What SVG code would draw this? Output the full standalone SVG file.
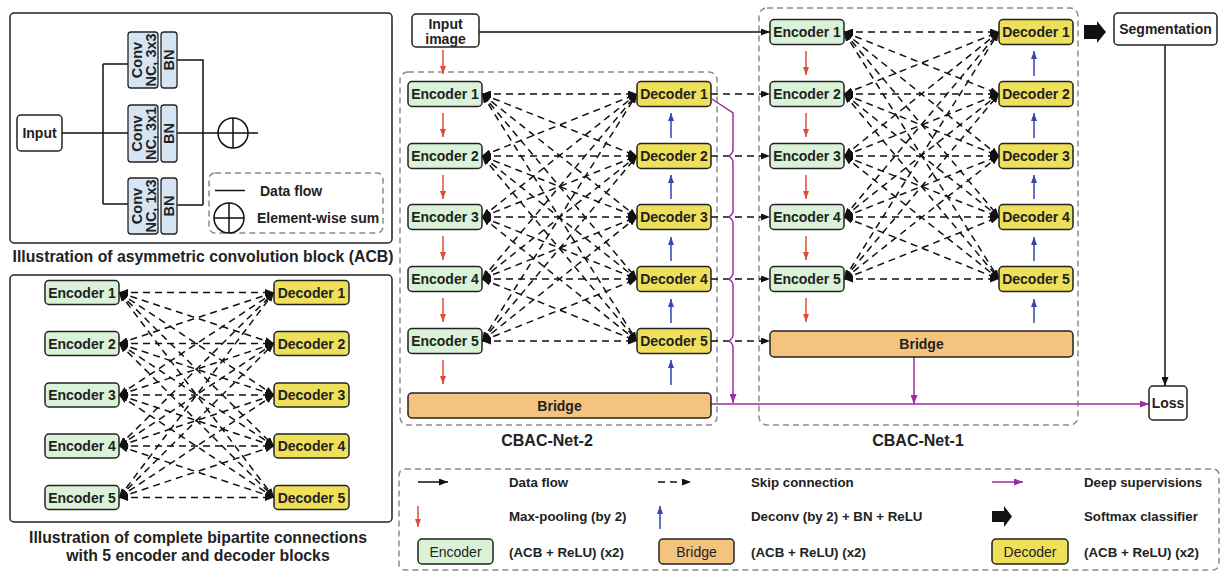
<svg xmlns="http://www.w3.org/2000/svg" width="1228" height="582" viewBox="0 0 1228 582">
<style>
text{font-family:"Liberation Sans",Arial,sans-serif;font-weight:bold;fill:#222}
.lbl{font-size:14px;text-anchor:middle;dominant-baseline:central}
.leg{font-size:13.3px;dominant-baseline:central}
.leg2{font-size:14px;dominant-baseline:central}
.title{font-size:15.8px;text-anchor:middle}
.net{font-size:16px;text-anchor:middle}
.rot{font-size:14.5px;text-anchor:middle}
.frame{fill:#fff;stroke:#222;stroke-width:1.5}
.gbox{fill:none;stroke:#8c8c8c;stroke-width:1.5;stroke-dasharray:6 4}
.enc{fill:#daf3d8;stroke:#222;stroke-width:1.5}
.dec{fill:#eee05a;stroke:#222;stroke-width:1.5}
.brg{fill:#f4c47f;stroke:#222;stroke-width:1.5}
.conv{fill:#d6e5f4;stroke:#222;stroke-width:1.3}
.wbox{fill:#fff;stroke:#222;stroke-width:1.5}
.sol{stroke:#111;stroke-width:1.5;fill:none}
.sk{stroke:#111;stroke-width:1.5;stroke-dasharray:7 5;fill:none;marker-start:url(#ak);marker-end:url(#ak)}
.sk1{stroke:#111;stroke-width:1.5;stroke-dasharray:7 5;fill:none;marker-end:url(#ak)}
.red{stroke:#e04b37;stroke-width:1.5;fill:none;marker-end:url(#ar)}
.blue{stroke:#3445b0;stroke-width:1.5;fill:none;marker-end:url(#ab)}
.pura{stroke:#9a2fa0;stroke-width:1.5;fill:none;marker-end:url(#ap)}
</style>
<defs>
<marker id="ak" viewBox="0 0 10 10" refX="10" refY="5" markerWidth="9" markerHeight="7" markerUnits="userSpaceOnUse" orient="auto-start-reverse" preserveAspectRatio="none"><path d="M0,0 L10,5 L0,10 z" fill="#111"/></marker>
<marker id="ar" viewBox="0 0 10 10" refX="10" refY="5" markerWidth="8" markerHeight="6" markerUnits="userSpaceOnUse" orient="auto" preserveAspectRatio="none"><path d="M0,0 L10,5 L0,10 z" fill="#e04b37"/></marker>
<marker id="ab" viewBox="0 0 10 10" refX="10" refY="5" markerWidth="8" markerHeight="6" markerUnits="userSpaceOnUse" orient="auto" preserveAspectRatio="none"><path d="M0,0 L10,5 L0,10 z" fill="#3445b0"/></marker>
<marker id="ap" viewBox="0 0 10 10" refX="10" refY="5" markerWidth="9" markerHeight="7" markerUnits="userSpaceOnUse" orient="auto" preserveAspectRatio="none"><path d="M0,0 L10,5 L0,10 z" fill="#9a2fa0"/></marker>
</defs>
<rect width="1228" height="582" fill="#fff"/>

<g id="acb-panel">
<rect class="frame" x="10" y="13" width="382" height="230" rx="4"/>
<g id="acb-input"><rect class="wbox" x="17" y="115" width="45" height="36" rx="4"/><text class="lbl" x="39.5" y="133">Input</text></g>
<path class="sol" d="M62,133 H128 M103,64 V204 M103,64 H128 M103,204 H128"/>
<path class="sol" d="M177,60 H203 V205 M177,205 H203 M177,133 H258"/>
<g id="acb-top"><rect class="conv" x="128" y="32" width="30" height="56" rx="3"/><rect class="conv" x="161" y="32" width="16" height="56" rx="3"/>
<text class="rot" transform="translate(141.5,60) rotate(-90)">Conv</text><text class="rot" transform="translate(155.5,60) rotate(-90)">NC, 3x3</text><text class="rot" transform="translate(174,60) rotate(-90)">BN</text></g>
<g id="acb-mid"><rect class="conv" x="128" y="105" width="30" height="57" rx="3"/><rect class="conv" x="161" y="105" width="16" height="57" rx="3"/>
<text class="rot" transform="translate(141.5,133.5) rotate(-90)">Conv</text><text class="rot" transform="translate(155.5,133.5) rotate(-90)">NC, 3x1</text><text class="rot" transform="translate(174,133.5) rotate(-90)">BN</text></g>
<g id="acb-bot"><rect class="conv" x="128" y="178" width="30" height="56" rx="3"/><rect class="conv" x="161" y="178" width="16" height="56" rx="3"/>
<text class="rot" transform="translate(141.5,206) rotate(-90)">Conv</text><text class="rot" transform="translate(155.5,206) rotate(-90)">NC, 1x3</text><text class="rot" transform="translate(174,206) rotate(-90)">BN</text></g>
<g id="acb-sum"><circle cx="233" cy="133" r="15" fill="#fff" stroke="#111" stroke-width="1.5"/><path class="sol" d="M218,133 H248 M233,118 V148"/></g>
<g id="acb-legend"><rect class="gbox" x="209" y="173" width="174" height="60" rx="6"/>
<path class="sol" d="M215,190.5 H245"/><text class="leg2" x="260" y="190.5">Data flow</text>
<circle cx="229" cy="218" r="15" fill="#fff" stroke="#111" stroke-width="1.5"/><path class="sol" d="M214,218 H244 M229,203 V233"/><text class="leg2" x="257" y="218">Element-wise sum</text></g>
<text class="title" x="203" y="262">Illustration of asymmetric convolution block (ACB)</text>
</g>

<g id="bip-panel">
<rect class="frame" x="10" y="275" width="382" height="247" rx="4"/>
<g id="bip-connectors">
<line class="sk" x1="119" y1="292.5" x2="274" y2="292.5"/><line class="sk" x1="119" y1="292.5" x2="274" y2="343.5"/><line class="sk" x1="119" y1="292.5" x2="274" y2="395"/><line class="sk" x1="119" y1="292.5" x2="274" y2="446"/><line class="sk" x1="119" y1="292.5" x2="274" y2="497.5"/>
<line class="sk" x1="119" y1="343.5" x2="274" y2="292.5"/><line class="sk" x1="119" y1="343.5" x2="274" y2="343.5"/><line class="sk" x1="119" y1="343.5" x2="274" y2="395"/><line class="sk" x1="119" y1="343.5" x2="274" y2="446"/><line class="sk" x1="119" y1="343.5" x2="274" y2="497.5"/>
<line class="sk" x1="119" y1="395" x2="274" y2="292.5"/><line class="sk" x1="119" y1="395" x2="274" y2="343.5"/><line class="sk" x1="119" y1="395" x2="274" y2="395"/><line class="sk" x1="119" y1="395" x2="274" y2="446"/><line class="sk" x1="119" y1="395" x2="274" y2="497.5"/>
<line class="sk" x1="119" y1="446" x2="274" y2="292.5"/><line class="sk" x1="119" y1="446" x2="274" y2="343.5"/><line class="sk" x1="119" y1="446" x2="274" y2="395"/><line class="sk" x1="119" y1="446" x2="274" y2="446"/><line class="sk" x1="119" y1="446" x2="274" y2="497.5"/>
<line class="sk" x1="119" y1="497.5" x2="274" y2="292.5"/><line class="sk" x1="119" y1="497.5" x2="274" y2="343.5"/><line class="sk" x1="119" y1="497.5" x2="274" y2="395"/><line class="sk" x1="119" y1="497.5" x2="274" y2="446"/><line class="sk" x1="119" y1="497.5" x2="274" y2="497.5"/>
</g>
<g id="bip-enc1"><rect class="enc" x="45" y="280.5" width="74" height="24" rx="4"/><text class="lbl" x="82" y="292.5">Encoder 1</text></g>
<g id="bip-enc2"><rect class="enc" x="45" y="331.5" width="74" height="24" rx="4"/><text class="lbl" x="82" y="343.5">Encoder 2</text></g>
<g id="bip-enc3"><rect class="enc" x="45" y="383" width="74" height="24" rx="4"/><text class="lbl" x="82" y="395">Encoder 3</text></g>
<g id="bip-enc4"><rect class="enc" x="45" y="434" width="74" height="24" rx="4"/><text class="lbl" x="82" y="446">Encoder 4</text></g>
<g id="bip-enc5"><rect class="enc" x="45" y="485.5" width="74" height="24" rx="4"/><text class="lbl" x="82" y="497.5">Encoder 5</text></g>
<g id="bip-dec1"><rect class="dec" x="274" y="280.5" width="75" height="24" rx="4"/><text class="lbl" x="311.5" y="292.5">Decoder 1</text></g>
<g id="bip-dec2"><rect class="dec" x="274" y="331.5" width="75" height="24" rx="4"/><text class="lbl" x="311.5" y="343.5">Decoder 2</text></g>
<g id="bip-dec3"><rect class="dec" x="274" y="383" width="75" height="24" rx="4"/><text class="lbl" x="311.5" y="395">Decoder 3</text></g>
<g id="bip-dec4"><rect class="dec" x="274" y="434" width="75" height="24" rx="4"/><text class="lbl" x="311.5" y="446">Decoder 4</text></g>
<g id="bip-dec5"><rect class="dec" x="274" y="485.5" width="75" height="24" rx="4"/><text class="lbl" x="311.5" y="497.5">Decoder 5</text></g>
<text class="title" x="198" y="543">Illustration of complete bipartite connections</text>
<text class="title" x="198" y="561">with 5 encoder and decoder blocks</text>
</g>

<rect class="gbox" x="400" y="72" width="317" height="353" rx="8"/>
<rect class="gbox" x="759" y="8" width="319" height="417" rx="8"/>
<text class="net" x="547" y="446">CBAC-Net-2</text>
<text class="net" x="918" y="446">CBAC-Net-1</text>

<g id="connectors">
<line class="sk" x1="482" y1="94" x2="637" y2="94"/><line class="sk" x1="482" y1="94" x2="637" y2="156"/><line class="sk" x1="482" y1="94" x2="637" y2="217"/><line class="sk" x1="482" y1="94" x2="637" y2="279"/><line class="sk" x1="482" y1="94" x2="637" y2="341"/>
<line class="sk" x1="482" y1="156" x2="637" y2="94"/><line class="sk" x1="482" y1="156" x2="637" y2="156"/><line class="sk" x1="482" y1="156" x2="637" y2="217"/><line class="sk" x1="482" y1="156" x2="637" y2="279"/><line class="sk" x1="482" y1="156" x2="637" y2="341"/>
<line class="sk" x1="482" y1="217" x2="637" y2="94"/><line class="sk" x1="482" y1="217" x2="637" y2="156"/><line class="sk" x1="482" y1="217" x2="637" y2="217"/><line class="sk" x1="482" y1="217" x2="637" y2="279"/><line class="sk" x1="482" y1="217" x2="637" y2="341"/>
<line class="sk" x1="482" y1="279" x2="637" y2="94"/><line class="sk" x1="482" y1="279" x2="637" y2="156"/><line class="sk" x1="482" y1="279" x2="637" y2="217"/><line class="sk" x1="482" y1="279" x2="637" y2="279"/><line class="sk" x1="482" y1="279" x2="637" y2="341"/>
<line class="sk" x1="482" y1="341" x2="637" y2="94"/><line class="sk" x1="482" y1="341" x2="637" y2="156"/><line class="sk" x1="482" y1="341" x2="637" y2="217"/><line class="sk" x1="482" y1="341" x2="637" y2="279"/><line class="sk" x1="482" y1="341" x2="637" y2="341"/>
<line class="sk" x1="844" y1="32" x2="999" y2="32"/><line class="sk" x1="844" y1="32" x2="999" y2="94"/><line class="sk" x1="844" y1="32" x2="999" y2="156"/><line class="sk" x1="844" y1="32" x2="999" y2="217"/><line class="sk" x1="844" y1="32" x2="999" y2="279"/>
<line class="sk" x1="844" y1="94" x2="999" y2="32"/><line class="sk" x1="844" y1="94" x2="999" y2="94"/><line class="sk" x1="844" y1="94" x2="999" y2="156"/><line class="sk" x1="844" y1="94" x2="999" y2="217"/><line class="sk" x1="844" y1="94" x2="999" y2="279"/>
<line class="sk" x1="844" y1="156" x2="999" y2="32"/><line class="sk" x1="844" y1="156" x2="999" y2="94"/><line class="sk" x1="844" y1="156" x2="999" y2="156"/><line class="sk" x1="844" y1="156" x2="999" y2="217"/><line class="sk" x1="844" y1="156" x2="999" y2="279"/>
<line class="sk" x1="844" y1="217" x2="999" y2="32"/><line class="sk" x1="844" y1="217" x2="999" y2="94"/><line class="sk" x1="844" y1="217" x2="999" y2="156"/><line class="sk" x1="844" y1="217" x2="999" y2="217"/><line class="sk" x1="844" y1="217" x2="999" y2="279"/>
<line class="sk" x1="844" y1="279" x2="999" y2="32"/><line class="sk" x1="844" y1="279" x2="999" y2="94"/><line class="sk" x1="844" y1="279" x2="999" y2="156"/><line class="sk" x1="844" y1="279" x2="999" y2="217"/><line class="sk" x1="844" y1="279" x2="999" y2="279"/>
<line class="sk1" x1="711" y1="94" x2="770" y2="94"/>
<line class="sk1" x1="711" y1="156" x2="770" y2="156"/>
<line class="sk1" x1="711" y1="217" x2="770" y2="217"/>
<line class="sk1" x1="711" y1="279" x2="770" y2="279"/>
<line class="sk1" x1="711" y1="341" x2="770" y2="341"/>
<line class="sol" x1="479" y1="32" x2="770" y2="32" marker-end="url(#ak)"/>
<path class="sol" d="M1165,45 V386" marker-end="url(#ak)"/>
<line class="red" x1="443" y1="50" x2="443" y2="74"/>
<line class="red" x1="443" y1="113" x2="443" y2="137"/>
<line class="red" x1="443" y1="175" x2="443" y2="199"/>
<line class="red" x1="443" y1="236" x2="443" y2="260"/>
<line class="red" x1="443" y1="298" x2="443" y2="322"/>
<line class="red" x1="443" y1="360" x2="443" y2="384"/>
<line class="red" x1="806" y1="51" x2="806" y2="75"/>
<line class="red" x1="806" y1="113" x2="806" y2="137"/>
<line class="red" x1="806" y1="175" x2="806" y2="199"/>
<line class="red" x1="806" y1="236" x2="806" y2="260"/>
<line class="red" x1="806" y1="298" x2="806" y2="322"/>
<line class="blue" x1="671" y1="138" x2="671" y2="113"/>
<line class="blue" x1="671" y1="199" x2="671" y2="175"/>
<line class="blue" x1="671" y1="261" x2="671" y2="237"/>
<line class="blue" x1="671" y1="323" x2="671" y2="299"/>
<line class="blue" x1="671" y1="385" x2="671" y2="360"/>
<line class="blue" x1="1034" y1="76" x2="1034" y2="51"/>
<line class="blue" x1="1034" y1="138" x2="1034" y2="113"/>
<line class="blue" x1="1034" y1="199" x2="1034" y2="175"/>
<line class="blue" x1="1034" y1="261" x2="1034" y2="237"/>
<line class="blue" x1="1034" y1="323" x2="1034" y2="299"/>
<path class="pura" d="M712,99 L733,113 V150 Q733,153 729,156 Q733,159 733,162 V211 Q733,214 729,217 Q733,220 733,223 V273 Q733,276 729,279 Q733,282 733,285 V335 Q733,338 729,341 Q733,344 733,347 V403"/>
<line class="pura" x1="711" y1="404" x2="1149" y2="404"/>
<line class="pura" x1="914" y1="357" x2="914" y2="404"/>
</g>

<g id="input-image"><rect class="wbox" x="412" y="14" width="67" height="33" rx="4"/><text class="lbl" x="445.5" y="23.5">Input</text><text class="lbl" x="445.5" y="39">image</text></g>

<g id="n2-enc1"><rect class="enc" x="408" y="81.5" width="74" height="25" rx="4"/><text class="lbl" x="445" y="94">Encoder 1</text></g>
<g id="n2-enc2"><rect class="enc" x="408" y="143.5" width="74" height="25" rx="4"/><text class="lbl" x="445" y="156">Encoder 2</text></g>
<g id="n2-enc3"><rect class="enc" x="408" y="204.5" width="74" height="25" rx="4"/><text class="lbl" x="445" y="217">Encoder 3</text></g>
<g id="n2-enc4"><rect class="enc" x="408" y="266.5" width="74" height="25" rx="4"/><text class="lbl" x="445" y="279">Encoder 4</text></g>
<g id="n2-enc5"><rect class="enc" x="408" y="328.5" width="74" height="25" rx="4"/><text class="lbl" x="445" y="341">Encoder 5</text></g>
<g id="n2-dec1"><rect class="dec" x="637" y="81.5" width="74" height="25" rx="4"/><text class="lbl" x="674" y="94">Decoder 1</text></g>
<g id="n2-dec2"><rect class="dec" x="637" y="143.5" width="74" height="25" rx="4"/><text class="lbl" x="674" y="156">Decoder 2</text></g>
<g id="n2-dec3"><rect class="dec" x="637" y="204.5" width="74" height="25" rx="4"/><text class="lbl" x="674" y="217">Decoder 3</text></g>
<g id="n2-dec4"><rect class="dec" x="637" y="266.5" width="74" height="25" rx="4"/><text class="lbl" x="674" y="279">Decoder 4</text></g>
<g id="n2-dec5"><rect class="dec" x="637" y="328.5" width="74" height="25" rx="4"/><text class="lbl" x="674" y="341">Decoder 5</text></g>
<g id="n2-bridge"><rect class="brg" x="408" y="393" width="303" height="25" rx="4"/><text class="lbl" x="559.5" y="405.5">Bridge</text></g>

<g id="n1-enc1"><rect class="enc" x="770" y="19.5" width="74" height="25" rx="4"/><text class="lbl" x="807" y="32">Encoder 1</text></g>
<g id="n1-enc2"><rect class="enc" x="770" y="81.5" width="74" height="25" rx="4"/><text class="lbl" x="807" y="94">Encoder 2</text></g>
<g id="n1-enc3"><rect class="enc" x="770" y="143.5" width="74" height="25" rx="4"/><text class="lbl" x="807" y="156">Encoder 3</text></g>
<g id="n1-enc4"><rect class="enc" x="770" y="204.5" width="74" height="25" rx="4"/><text class="lbl" x="807" y="217">Encoder 4</text></g>
<g id="n1-enc5"><rect class="enc" x="770" y="266.5" width="74" height="25" rx="4"/><text class="lbl" x="807" y="279">Encoder 5</text></g>
<g id="n1-dec1"><rect class="dec" x="999" y="19.5" width="74" height="25" rx="4"/><text class="lbl" x="1036" y="32">Decoder 1</text></g>
<g id="n1-dec2"><rect class="dec" x="999" y="81.5" width="74" height="25" rx="4"/><text class="lbl" x="1036" y="94">Decoder 2</text></g>
<g id="n1-dec3"><rect class="dec" x="999" y="143.5" width="74" height="25" rx="4"/><text class="lbl" x="1036" y="156">Decoder 3</text></g>
<g id="n1-dec4"><rect class="dec" x="999" y="204.5" width="74" height="25" rx="4"/><text class="lbl" x="1036" y="217">Decoder 4</text></g>
<g id="n1-dec5"><rect class="dec" x="999" y="266.5" width="74" height="25" rx="4"/><text class="lbl" x="1036" y="279">Decoder 5</text></g>
<g id="n1-bridge"><rect class="brg" x="770" y="331" width="303" height="26" rx="4"/><text class="lbl" x="921.5" y="344">Bridge</text></g>

<g id="softmax"><polygon points="1084,25 1097,25 1097,21 1106,32 1097,43 1097,39 1084,39" fill="#111"/></g>
<g id="segmentation"><rect class="wbox" x="1114" y="13" width="103" height="32" rx="4"/><text class="lbl" x="1165.5" y="29">Segmentation</text></g>
<g id="loss"><rect class="wbox" x="1149" y="386" width="38" height="34" rx="4"/><text class="lbl" x="1168" y="403">Loss</text></g>

<g id="legend">
<rect class="gbox" x="399" y="469" width="820" height="101" rx="6"/>
<line class="sol" x1="418" y1="482" x2="448" y2="482" marker-end="url(#ak)"/>
<text class="leg" x="509" y="482">Data flow</text>
<line class="sk1" x1="658" y1="482" x2="691" y2="482"/>
<text class="leg" x="751" y="482">Skip connection</text>
<line class="pura" x1="992" y1="482" x2="1023" y2="482"/>
<text class="leg" x="1084" y="482">Deep supervisions</text>
<line class="red" x1="418" y1="506" x2="418" y2="527"/>
<text class="leg" x="509" y="516">Max-pooling (by 2)</text>
<line class="blue" x1="660" y1="529" x2="660" y2="506"/>
<text class="leg" x="751" y="516">Deconv (by 2) + BN + ReLU</text>
<polygon points="992,511 1004,511 1004,506 1012,516.5 1004,527 1004,522 992,522" fill="#111"/>
<text class="leg" x="1084" y="516">Softmax classifier</text>
<rect class="enc" x="418" y="539" width="75" height="25" rx="4"/><text class="lbl" x="455.5" y="551.5" style="font-weight:normal">Encoder</text>
<text class="leg" x="509" y="552">(ACB + ReLU) (x2)</text>
<rect class="brg" x="659" y="539" width="75" height="25" rx="4"/><text class="lbl" x="696.5" y="551.5" style="font-weight:normal">Bridge</text>
<text class="leg" x="751" y="552">(ACB + ReLU) (x2)</text>
<rect class="dec" x="992" y="539" width="76" height="25" rx="4"/><text class="lbl" x="1030" y="551.5" style="font-weight:normal">Decoder</text>
<text class="leg" x="1084" y="552">(ACB + ReLU) (x2)</text>
</g>
</svg>
